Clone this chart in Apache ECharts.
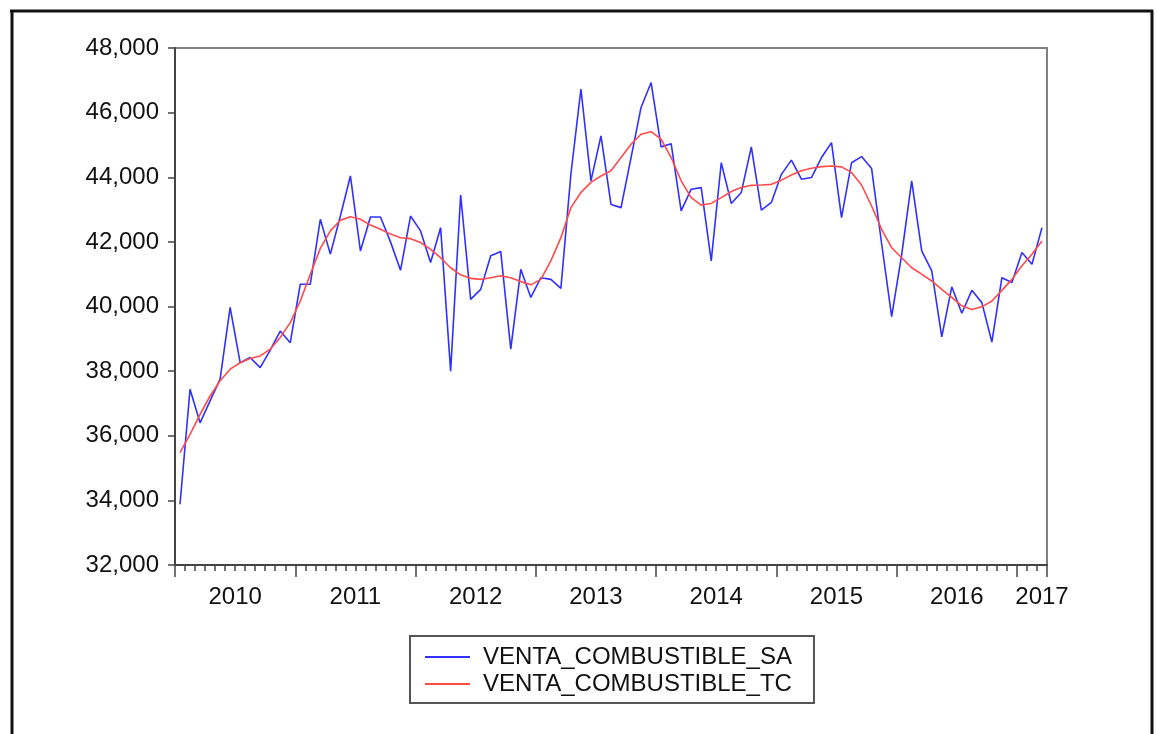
<!DOCTYPE html>
<html>
<head>
<meta charset="utf-8">
<script src="https://cdn.jsdelivr.net/npm/echarts@6/dist/echarts.min.js"></script>
<style>
  html, body { margin: 0; padding: 0; background: #fff; }
  #main { width: 1158px; height: 734px; }
</style>
</head>
<body>
<div id="main"></div>
<script>
// monthly series, 2010M01 - 2017M03
const years = [2010, 2011, 2012, 2013, 2014, 2015, 2016, 2017];
const ventaSA = [
  33880, 37440, 36400, 37080, 37750, 39970, 38260, 38420, 38110, 38650, 39240, 38880,
  40690, 40690, 42700, 41620, 42800, 44040, 41720, 42770, 42770, 42000, 41120, 42800,
  42340, 41360, 42440, 38000, 43450, 40220, 40530, 41570, 41700, 38680, 41150, 40280,
  40890, 40840, 40560, 44100, 46730, 43890, 45280, 43160, 43060, 44610, 46160, 46930,
  44940, 45040, 42960, 43630, 43680, 41410, 44450, 43190, 43530, 44940, 42980, 43220,
  44090, 44530, 43940, 43990, 44610, 45070, 42750, 44450, 44640, 44270, 41950, 39690,
  41600, 43890, 41720, 41100, 39060, 40610, 39790, 40500, 40120, 38900, 40890, 40740,
  41670, 41310, 42440
];
const ventaTC = [
  35480, 36040, 36660, 37230, 37700, 38060, 38260, 38390, 38470, 38680, 39040, 39500,
  40170, 41000, 41800, 42340, 42670, 42780, 42700, 42520, 42390, 42240, 42130, 42100,
  41980, 41770, 41510, 41200, 40980, 40870, 40840, 40890, 40950, 40890, 40770, 40670,
  40840, 41410, 42130, 43060, 43530, 43840, 44040, 44200, 44610, 45020, 45330, 45410,
  45180, 44610, 43890, 43370, 43140, 43190, 43370, 43560, 43680, 43750, 43760, 43780,
  43910, 44070, 44200, 44280, 44330, 44350, 44320, 44150, 43760, 43110, 42390, 41820,
  41510, 41200, 41000, 40790, 40530, 40280, 40020, 39910, 39990, 40170, 40500, 40840,
  41260, 41620, 42030
];
const yTicks = { min: 32000, max: 48000, step: 2000 };

// category labels like 2010M01
const categories = [];
for (let i = 0; i < ventaSA.length; i++) {
  const y = years[Math.floor(i / 12)];
  const m = (i % 12) + 1;
  categories.push(y + 'M' + (m < 10 ? '0' + m : m));
}
const lastIdx = categories.length - 1;

const txt = { color: '#111', fontFamily: 'Liberation Sans, Arial, sans-serif', fontSize: 24 };
const axisColor = '#444';

let myChart = echarts.init(document.getElementById('main'));
myChart.setOption({
  animation: false,
  backgroundColor: '#fff',
  grid: {
    left: 175, top: 48, width: 872, height: 517,
    show: true, borderColor: '#808080', borderWidth: 2
  },
  xAxis: [
    {
      type: 'category',
      data: categories,
      boundaryGap: true,
      z: 5,
      axisLine: { show: true, lineStyle: { color: axisColor, width: 2 } },
      axisTick: {
        show: true, inside: false, interval: 0, alignWithLabel: false, length: 6,
        lineStyle: { color: axisColor, width: 1.5 }
      },
      splitLine: { show: false },
      axisLabel: {
        // one label per year, put in the middle of the year
        interval: function (idx) {
          return idx === lastIdx || (idx % 12 === 5 && idx + 6 < lastIdx);
        },
        formatter: function (val, idx) {
          const y = val.slice(0, 4);
          return idx === lastIdx ? '{b|' + y + '}' : '{a|' + y + '}';
        },
        margin: 20,
        rich: {
          a: Object.assign({ padding: [0, 0, 0, 10] }, txt),
          b: Object.assign({}, txt)
        }
      }
    },
    {
      // long ticks at the year boundaries
      type: 'category',
      data: categories,
      boundaryGap: true,
      position: 'bottom',
      z: 5,
      axisLine: { show: false },
      axisTick: {
        show: true, inside: false,
        interval: function (idx) { return idx % 12 === 0; },
        length: 12,
        lineStyle: { color: axisColor, width: 1.5 }
      },
      axisLabel: { show: false },
      splitLine: { show: false }
    }
  ],
  yAxis: {
    type: 'value',
    min: yTicks.min,
    max: yTicks.max,
    interval: yTicks.step,
    z: 5,
    axisLine: { show: true, lineStyle: { color: axisColor, width: 2 } },
    axisTick: { show: true, inside: false, length: 7, lineStyle: { color: axisColor, width: 1.5 } },
    splitLine: { show: false },
    axisLabel: Object.assign({
      margin: 16,
      formatter: function (v) { return v.toLocaleString('en-US'); }
    }, txt)
  },
  legend: {
    orient: 'vertical',
    left: 410,
    top: 636,
    padding: [9, 22, 7, 15],
    itemGap: 3,
    itemWidth: 45,
    itemHeight: 2,
    borderColor: '#555',
    borderWidth: 2,
    backgroundColor: '#fff',
    textStyle: Object.assign({ padding: [0, 0, 0, 8] }, txt),
    data: [
      { name: 'VENTA_COMBUSTIBLE_SA', icon: 'rect' },
      { name: 'VENTA_COMBUSTIBLE_TC', icon: 'rect' }
    ]
  },
  graphic: [
    { type: 'line', shape: { x1: 10, y1: 11, x2: 1153, y2: 11 }, style: { stroke: '#111', lineWidth: 3 } },
    { type: 'line', shape: { x1: 12, y1: 10, x2: 12, y2: 734 }, style: { stroke: '#111', lineWidth: 3 } },
    { type: 'line', shape: { x1: 1152, y1: 10, x2: 1152, y2: 734 }, style: { stroke: '#111', lineWidth: 3 } }
  ],
  series: [
    {
      name: 'VENTA_COMBUSTIBLE_SA',
      type: 'line',
      data: ventaSA,
      symbol: 'none',
      lineStyle: { color: '#3030ff', width: 1.6 },
      itemStyle: { color: '#3030ff' }
    },
    {
      name: 'VENTA_COMBUSTIBLE_TC',
      type: 'line',
      data: ventaTC,
      symbol: 'none',
      lineStyle: { color: '#ff4a4a', width: 1.6 },
      itemStyle: { color: '#ff4a4a' }
    }
  ]
});
</script>
</body>
</html>
